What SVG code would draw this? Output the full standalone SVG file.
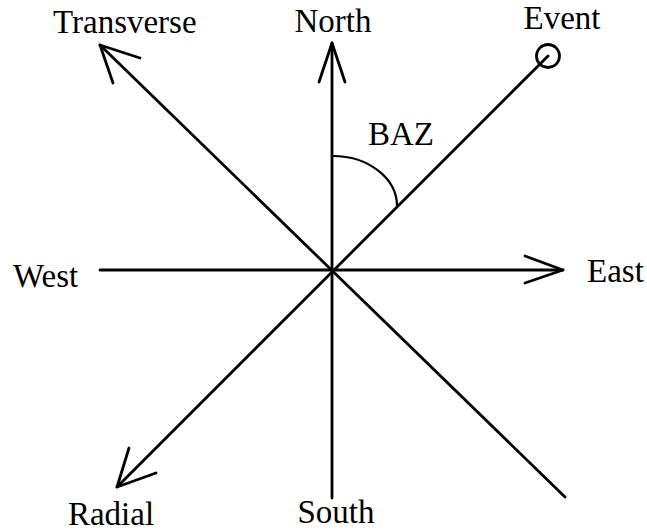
<svg xmlns="http://www.w3.org/2000/svg" width="647" height="531" viewBox="0 0 647 531">
<style>
.ln{stroke:#000;stroke-width:2.8;fill:none;stroke-linecap:round;stroke-linejoin:round}
.arc{stroke:#000;stroke-width:2.2;fill:none}
.lb{font-family:"Liberation Serif","Times New Roman",serif;font-size:33px;fill:#000}
</style>
<rect width="647" height="531" fill="#fff"/>
<g id="connectors">
<line class="ln" x1="332" y1="43" x2="332" y2="498"/>
<polyline class="ln" points="319,82 332,43 345,82"/>
<line class="ln" x1="100" y1="270" x2="563" y2="270"/>
<polyline class="ln" points="525,256 563,270 525,283"/>
<line class="ln" x1="100" y1="45" x2="565" y2="497"/>
<polyline class="ln" points="140,58 100,45 113,83"/>
<line class="ln" x1="117" y1="487" x2="548" y2="56"/>
<polyline class="ln" points="129,448 117,487 156,473"/>
<path class="arc" d="M333,156 A64,50 0 0 1 397,206"/>
</g>
<g id="event"><circle class="ln" cx="548" cy="56" r="11.5"/><text class="lb" x="562" y="29" text-anchor="middle">Event</text></g>
<g id="north"><text class="lb" x="333" y="32" text-anchor="middle">North</text></g>
<g id="transverse"><text class="lb" x="53" y="33">Transverse</text></g>
<g id="west"><text class="lb" x="13" y="287">West</text></g>
<g id="east"><text class="lb" x="587" y="282">East</text></g>
<g id="south"><text class="lb" x="336" y="523" text-anchor="middle">South</text></g>
<g id="radial"><text class="lb" x="111" y="525" text-anchor="middle">Radial</text></g>
<g id="baz"><text class="lb" x="401" y="145" text-anchor="middle">BAZ</text></g>
</svg>
